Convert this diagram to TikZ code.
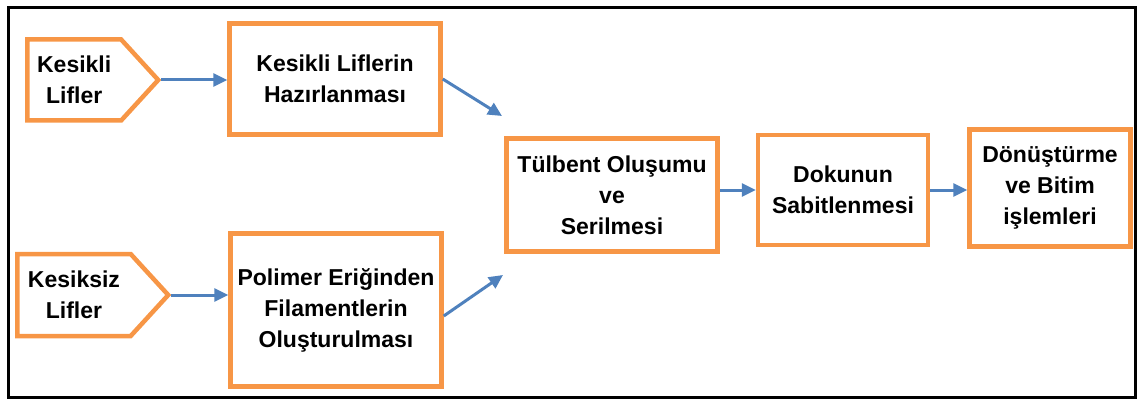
\documentclass[tikz,border=0pt]{standalone}
\usepackage{fontspec}
\setmainfont{Liberation Sans}
\usetikzlibrary{arrows.meta,positioning,shapes.symbols}
\definecolor{boxorange}{HTML}{F79646}
\definecolor{flowblue}{HTML}{4F81BD}

\begin{document}
\begin{tikzpicture}[x=1pt,y=-1pt,
  fiber/.style={signal,signal to=east,signal pointer angle=95,draw=boxorange,line width=4.5pt,align=center,inner sep=0pt,anchor=west,font=\bfseries\fontsize{23}{31}\selectfont},
  process/.style={draw=boxorange,line width=4.5pt,align=center,inner sep=0pt,font=\bfseries\fontsize{23}{31}\selectfont},
  flow/.style={-{Triangle[length=14pt,width=13pt]},line width=3pt,flowblue}
]
  \useasboundingbox (0,0) rectangle (1137,401);
  \draw[line width=3pt] (8,8) rectangle (1135,397);
  % fibre sources
  \node[fiber,minimum width=131pt,minimum height=81pt] (kesikli) at (25,80) {Kesikli\\Lifler};
  \node[fiber,minimum width=151pt,minimum height=82pt] (kesiksiz) at (15,295) {Kesiksiz\\Lifler};
  % process steps
  \node[process,minimum width=211pt,minimum height=111pt] (hazirlama) at (335,79) {Kesikli Liflerin\\Hazırlanması};
  \node[process,minimum width=211pt,minimum height=153pt] (polimer) at (336,310) {Polimer Eriğinden\\Filamentlerin\\Oluşturulması};
  \node[process,minimum width=211pt,minimum height=113pt] (tulbent) at (612,195) {Tülbent Oluşumu\\ve\\Serilmesi};
  \node[process,minimum width=170pt,minimum height=110pt] (dokunun) at (843,190) {Dokunun\\Sabitlenmesi};
  \node[process,minimum width=161pt,minimum height=117pt] (donusturme) at (1050,188) {Dönüştürme\\ve Bitim\\işlemleri};
  \coordinate (upperend) at (502,116);
  \coordinate (lowerend) at (503,275);
  \draw[flow] (kesikli.east) -- (kesikli.east -| hazirlama.west);
  \draw[flow] (kesiksiz.east) -- (kesiksiz.east -| polimer.west);
  \draw[flow] (hazirlama.east) -- (upperend);
  \draw[flow] (polimer.east |- 0,316) -- (lowerend);
  \draw[flow] (dokunun.west -| tulbent.east) -- (dokunun.west);
  \draw[flow] (dokunun.east) -- (dokunun.east -| donusturme.west);
\end{tikzpicture}
\end{document}
